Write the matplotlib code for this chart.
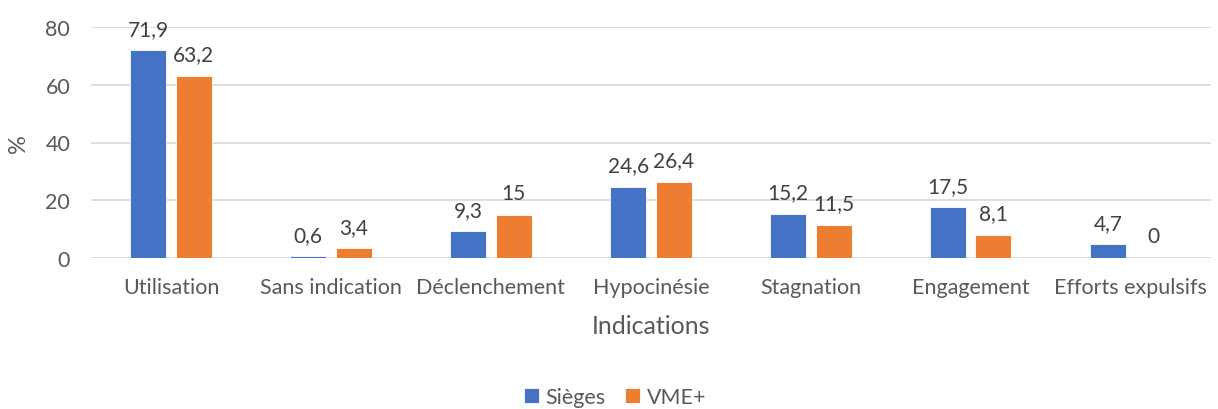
import matplotlib.pyplot as plt
import numpy as np

plt.rcParams['font.family'] = ['Lato', 'DejaVu Sans']

# Data
categories = ['Utilisation', 'Sans indication', 'Déclenchement', 'Hypocinésie',
              'Stagnation', 'Engagement', 'Efforts expulsifs']
sieges = [71.9, 0.6, 9.3, 24.6, 15.2, 17.5, 4.7]
vme = [63.2, 3.4, 15, 26.4, 11.5, 8.1, 0]
series_names = ['Sièges', 'VME+']

blue = '#4472C4'
orange = '#ED7D31'
text_col = '#595959'
label_col = '#404040'

def fmt(v):
    return ('%g' % v).replace('.', ',')

fig = plt.figure(figsize=(12.18, 4.10), dpi=100)
ax = fig.add_axes([0.0747, 0.3683, 0.9193, 0.5634])

x = np.arange(len(categories))
w = 0.225
off = 0.142
b1 = ax.bar(x - off, sieges, w, color=blue, edgecolor='white', linewidth=0.6,
            label=series_names[0], zorder=3)
b2 = ax.bar(x + off, vme, w, color=orange, edgecolor='white', linewidth=0.6,
            label=series_names[1], zorder=3)

for bars, vals in [(b1, sieges), (b2, vme)]:
    for r, v in zip(bars, vals):
        ax.text(r.get_x() + r.get_width() / 2, v + 4.0, fmt(v), ha='center',
                va='bottom', fontsize=15, color=label_col)

ax.set_xlim(-0.5, len(categories) - 0.5)
ax.set_ylim(0, 80)
ax.set_yticks([0, 20, 40, 60, 80])
ax.set_xticks(x)
ax.set_xticklabels(categories)
ax.grid(axis='y', color='#D9D9D9', linewidth=1.2, zorder=0)
for s in ax.spines.values():
    s.set_visible(False)
ax.tick_params(axis='both', length=0, labelsize=15.5, labelcolor=text_col)
ax.tick_params(axis='x', pad=14)
ax.tick_params(axis='y', pad=15)
ax.set_xlabel('Indications', fontsize=18, color=text_col, labelpad=12)
ax.set_ylabel('%', fontsize=17, color=text_col, labelpad=12)

fig.legend(loc='center', bbox_to_anchor=(0.505, 0.03), ncol=2, frameon=False,
           fontsize=15.5, labelcolor=text_col, handlelength=0.7, handleheight=0.7,
           handletextpad=0.3, columnspacing=0.9)

fig.savefig('out.png', dpi=100)
